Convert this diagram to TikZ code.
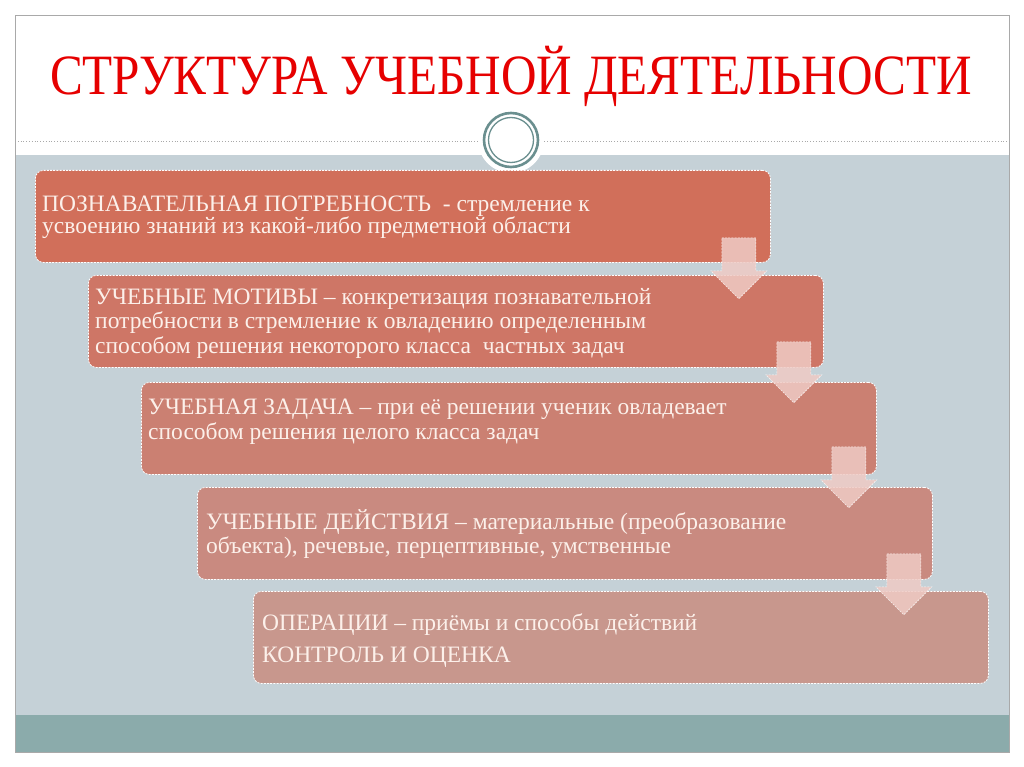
\documentclass[tikz,border=0pt]{standalone}
\usepackage{fontspec}
\setmainfont{Liberation Serif}
\usetikzlibrary{calc}

\definecolor{slideframe}{HTML}{A9A9A9}
\definecolor{slidebg}{HTML}{C5D1D7}
\definecolor{slidestrip}{HTML}{8BABAB}
\definecolor{titlered}{HTML}{E60000}
\definecolor{ringteal}{HTML}{6A8F8F}
\definecolor{stageA}{HTML}{D16F5A}
\definecolor{stageB}{HTML}{CE7666}
\definecolor{stageC}{HTML}{CB8072}
\definecolor{stageD}{HTML}{C98A80}
\definecolor{stageE}{HTML}{C8978D}
\definecolor{stagetxt}{HTML}{FCF0EA}
\definecolor{arrowpink}{HTML}{EFCBC5}

\tikzset{
  stage/.style={draw=white, dash pattern=on 2pt off 1.2pt, line width=0.8pt,
    rounded corners=8pt, minimum width=735pt, minimum height=92pt,
    anchor=north west, inner sep=0pt},
  stagetext/.style={text=stagetxt, align=left, anchor=north west, inner sep=0pt,
    font=\fontsize{23.5}{24.5}\selectfont},
  downarrow/.style={fill=arrowpink, fill opacity=0.85, draw=white, draw opacity=0.8,
    dash pattern=on 2pt off 1.2pt, line width=0.6pt}
}

\begin{document}
\begin{tikzpicture}[x=1pt,y=-1pt]
	\useasboundingbox (0,0) rectangle (1024,767);
	%\draw[help lines] (0,0) grid[step=50] (1024,767);
	\fill[white] (0,0) rectangle (1024,767);
	\fill[slidebg] (15,155) rectangle (1009,715);
	\fill[slidestrip] (15,715) rectangle (1009,752);
	\draw[slideframe, line width=0.8pt] (15,15) rectangle (1009,752);
	\draw[slideframe, dotted, line width=0.8pt] (15,141) -- (1009,141);
	% ornament
	\fill[white] (511,140) circle (33);
	\draw[ringteal, line width=2.6pt] (511,140) circle (27);
	\draw[ringteal, line width=1.3pt] (511,140) circle (22.5);
	\node[text=titlered, font=\fontsize{57}{60}\selectfont] (title) at (511,76)
		{\scalebox{0.863}[1]{СТРУКТУРА УЧЕБНОЙ ДЕЯТЕЛЬНОСТИ}};

	% stages
	\node[stage, fill=stageA] (potr) at (35,170) {};
	\node[stage, fill=stageB] (motiv) at (88,275) {};
	\node[stage, fill=stageC] (zadacha) at (141,382) {};
	\node[stage, fill=stageD] (deistv) at (197,487) {};
	\node[stage, fill=stageE] (oper) at (253,591) {};

	\node[stagetext, font=\fontsize{23.5}{22}\selectfont] (potrtxt) at ($(potr.north west)+(7,26)$)
		{ПОЗНАВАТЕЛЬНАЯ ПОТРЕБНОСТЬ\ \ - стремление к\\усвоению знаний из какой-либо предметной области};
	\node[stagetext] (motivtxt) at ($(motiv.north west)+(7,13)$)
		{УЧЕБНЫЕ МОТИВЫ -- конкретизация познавательной\\потребности в стремление к овладению определенным\\способом решения некоторого класса\ \ частных задач};
	\node[stagetext] (zadachatxt) at ($(zadacha.north west)+(7,17)$)
		{УЧЕБНАЯ ЗАДАЧА -- при её решении ученик овладевает\\способом решения целого класса задач};
	\node[stagetext] (deistvtxt) at ($(deistv.north west)+(9,22)$)
		{УЧЕБНЫЕ ДЕЙСТВИЯ -- материальные (преобразование\\объекта), речевые, перцептивные, умственные};
	\node[stagetext] (opertxt) at ($(oper.north west)+(9,22)$)
		{ОПЕРАЦИИ -- приёмы и способы действий\\[8pt]КОНТРОЛЬ И ОЦЕНКА};

	% arrows between stages
	\draw[downarrow] ($(potr.south east)+(-49,-25)$) -- ++(34,0) -- ++(0,33) -- ++(11,0)
		-- ++(-28,28) -- ++(-28,-28) -- ++(11,0) -- cycle;
	\draw[downarrow] ($(motiv.south east)+(-47,-26)$) -- ++(34,0) -- ++(0,33) -- ++(11,0)
		-- ++(-28,28) -- ++(-28,-28) -- ++(11,0) -- cycle;
	\draw[downarrow] ($(zadacha.south east)+(-45,-28)$) -- ++(34,0) -- ++(0,33) -- ++(11,0)
		-- ++(-28,28) -- ++(-28,-28) -- ++(11,0) -- cycle;
	\draw[downarrow] ($(deistv.south east)+(-46,-26)$) -- ++(34,0) -- ++(0,33) -- ++(11,0)
		-- ++(-28,28) -- ++(-28,-28) -- ++(11,0) -- cycle;
\end{tikzpicture}
\end{document}
